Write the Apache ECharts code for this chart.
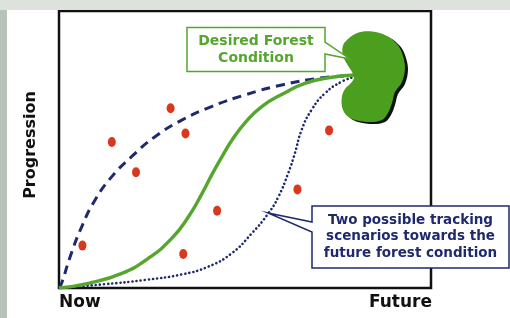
<!DOCTYPE html>
<html>
<head>
<meta charset="utf-8">
<script src="https://cdn.jsdelivr.net/npm/echarts@6/dist/echarts.min.js"></script>
<style>
  html, body { margin: 0; padding: 0; background: #fff; }
  #main { width: 510px; height: 318px; }
</style>
</head>
<body>
<div id="main"></div>
<script>
 var myChart = echarts.init(document.getElementById('main'));

 // 观测点 (x = time, y = progression), 0..100 on both axes
 var obsX = [6.3, 14.2, 20.7, 30.0, 34.0, 33.4, 42.5, 64.1, 72.6];
 var obsY = [15.3, 52.7, 41.8, 64.9, 55.8, 12.3, 27.9, 35.6, 56.9];

 // fast track (dashed)
 var fastX = [0, 0.7, 3.0, 6.1, 9.7, 14.2, 19.5, 25.8, 33.0, 41.0, 50.0, 59.9, 69.7, 76.9];
 var fastY = [0, 1.7, 11.3, 22.1, 31.8, 40.2, 47.4, 54.6, 60.6, 65.5, 69.7, 73.3, 75.7, 76.5];

 // planned path (solid green)
 var planX = [0, 7.9, 16.9, 24.0, 30.3, 34.8, 38.4, 41.2, 43.9, 46.6, 50.0, 54.5, 60.5, 66.1, 73.3, 79.6];
 var planY = [0, 1.7, 5.3, 10.7, 17.9, 25.7, 34.0, 41.2, 47.6, 53.6, 59.6, 65.5, 70.3, 73.9, 76.1, 76.9];

 // slow track (dotted)
 var slowX = [0, 12.4, 23.1, 33.0, 40.1, 46.4, 51.8, 56.3, 59.0, 61.6, 63.4, 65.2, 67.9, 71.5, 76.0, 79.6];
 var slowY = [0, 1.4, 2.9, 4.9, 7.7, 12.5, 19.7, 27.0, 33.0, 41.4, 48.6, 57.0, 64.3, 70.3, 74.5, 76.3];

 var axisLabels = ['Now', 'Future'];
 var yName = 'Progression';
 var goalText = ['Desired Forest', 'Condition'];
 var noteText = ['Two possible tracking', 'scenarios towards the', 'future forest condition'];

 function pairs(xs, ys) {
	 return xs.map(function (x, i) { return [x, ys[i]]; });
 }

 var navy = '#1f2a6c';
 var green = '#55a62c';
 var font = 'DejaVu Sans';

 var leaf = [[345,42],[357,33],[372,31.5],[387,36],[397,44],[402,53],[405,67],[402,82],
	 [395,92],[392,103],[388,113],[382,120],[367,122],[350,118],[343,110],[341.7,98],[345,89],
	 [351,83],[354,78],[352,72],[347,64],[343,56],[342.5,48]];
 var leafShadow = leaf.map(function (p) { return [p[0] + 3, p[1] + 2]; });

 var options = {
	 backgroundColor: '#ffffff',
	 animation: false,
	 grid: {
		 left: 59, top: 11, right: 79, bottom: 30,
		 show: true, borderColor: '#111', borderWidth: 2.5, backgroundColor: '#fff'
	 },
	 xAxis: {
		 type: 'value', min: 0, max: 100,
		 axisLine: { show: false }, axisTick: { show: false },
		 axisLabel: { show: false }, splitLine: { show: false }
	 },
	 yAxis: {
		 type: 'value', min: 0, max: 100,
		 axisLine: { show: false }, axisTick: { show: false },
		 axisLabel: { show: false }, splitLine: { show: false }
	 },
	 series: [{
		 name: 'fast',
		 type: 'line',
		 smooth: 0.5,
		 showSymbol: false,
		 lineStyle: { color: navy, width: 3, type: [9, 6] },
		 data: pairs(fastX, fastY)
	 }, {
		 name: 'slow',
		 type: 'line',
		 smooth: 0.5,
		 showSymbol: false,
		 lineStyle: { color: navy, width: 2.6, type: [0.1, 4], cap: 'round' },
		 data: pairs(slowX, slowY)
	 }, {
		 name: 'plan',
		 type: 'line',
		 smooth: 0.5,
		 showSymbol: false,
		 lineStyle: { color: green, width: 3.4 },
		 data: pairs(planX, planY)
	 }, {
		 name: 'obs',
		 type: 'scatter',
		 symbol: 'circle',
		 symbolSize: [8, 10],
		 itemStyle: { color: '#d9381e', opacity: 1 },
		 data: pairs(obsX, obsY)
	 }],
	 graphic: [
		 // blurred photo edges
		 { type: 'rect', z: 0, shape: { x: 0, y: 0, width: 7, height: 318 }, style: { fill: '#b9c1bb' } },
		 { type: 'rect', z: 0, shape: { x: 0, y: 0, width: 510, height: 10 }, style: { fill: '#dde2dd' } },
		 // leaf
		 { type: 'polygon', z: 100, shape: { points: leafShadow, smooth: 0.35 }, style: { fill: '#111' } },
		 { type: 'polygon', z: 101, shape: { points: leaf, smooth: 0.35 }, style: { fill: '#4c9e1f' } },
		 // goal callout
		 { type: 'polygon', z: 102,
		   shape: { points: [[187,27.5],[325,27.5],[325,42],[350,59],[325,54],[325,71.5],[187,71.5]] },
		   style: { fill: '#fff', stroke: green, lineWidth: 1.5 } },
		 { type: 'text', z: 103, x: 256, y: 41.5,
		   style: { text: goalText[0], font: 'bold 14px ' + font, fill: green, align: 'center', verticalAlign: 'middle' } },
		 { type: 'text', z: 103, x: 256, y: 58.5,
		   style: { text: goalText[1], font: 'bold 14px ' + font, fill: green, align: 'center', verticalAlign: 'middle' } },
		 // scenario callout
		 { type: 'polygon', z: 102,
		   shape: { points: [[312,206],[509,206],[509,268],[312,268],[312,232],[268,213],[312,222]] },
		   style: { fill: '#fff', stroke: navy, lineWidth: 1.5 } },
		 { type: 'text', z: 103, x: 410.5, y: 220,
		   style: { text: noteText[0], font: 'bold 13.5px ' + font, fill: navy, align: 'center', verticalAlign: 'middle' } },
		 { type: 'text', z: 103, x: 410.5, y: 236.5,
		   style: { text: noteText[1], font: 'bold 13.5px ' + font, fill: navy, align: 'center', verticalAlign: 'middle' } },
		 { type: 'text', z: 103, x: 410.5, y: 253,
		   style: { text: noteText[2], font: 'bold 13.5px ' + font, fill: navy, align: 'center', verticalAlign: 'middle' } },
		 // axis words
		 { type: 'text', z: 103, x: 59, y: 303,
		   style: { text: axisLabels[0], font: 'bold 17px ' + font, fill: '#111', align: 'left', verticalAlign: 'middle' } },
		 { type: 'text', z: 103, x: 432, y: 303,
		   style: { text: axisLabels[1], font: 'bold 17px ' + font, fill: '#111', align: 'right', verticalAlign: 'middle' } },
		 { type: 'text', z: 103, x: 31, y: 145, rotation: Math.PI / 2,
		   style: { text: yName, font: 'bold 16px ' + font, fill: '#111', align: 'center', verticalAlign: 'middle' } }
	 ]
 };

 myChart.setOption(options);
</script>
</body>
</html>
